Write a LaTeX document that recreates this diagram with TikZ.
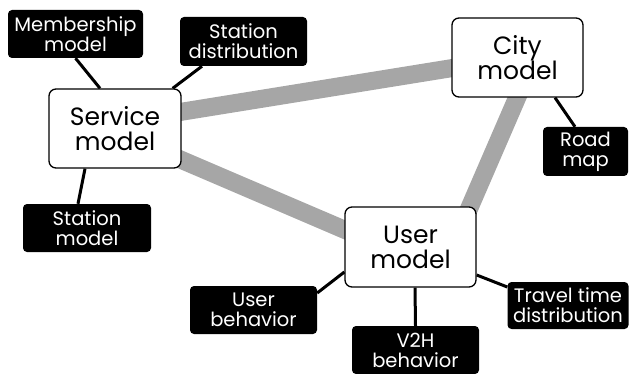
\documentclass[tikz,border=0pt]{standalone}
\usepackage{fontspec}
\setmainfont{Poppins}
\usetikzlibrary{backgrounds}
\definecolor{linkgray}{RGB}{166,166,166}
\tikzset{
  mainbox/.style={draw=black, line width=1.3pt, fill=white, rounded corners=7pt,
    align=center, inner sep=0pt, font=\fontsize{25}{25}\selectfont},
  tagbox/.style={fill=black, text=white, rounded corners=4pt, align=center,
    inner sep=0pt, font=\fontsize{19.5}{20}\selectfont},
  link/.style={draw=linkgray, line width=18pt},
  tie/.style={draw=black, line width=3pt},
}
\begin{document}
\begin{tikzpicture}[x=1pt, y=-1pt]
  \clip (0,0) rectangle (631,374);
  \useasboundingbox (0,0) rectangle (631,374);

  % models
  \node[mainbox, minimum width=132pt, minimum height=79pt] (svc)  at (115,128.5)   {Service\\model};
  \node[mainbox, minimum width=131pt, minimum height=79pt] (city) at (517.5,57.5)  {City\\model};
  \node[mainbox, minimum width=131pt, minimum height=80pt] (usr)  at (410.5,247)   {User\\model};

  % inputs of each model
  \node[tagbox, minimum width=135pt, minimum height=48pt] (mem)   at (75.5,34)    {Membership\\model};
  \node[tagbox, minimum width=127pt, minimum height=49pt] (sdist) at (243.5,41.5) {Station\\distribution};
  \node[tagbox, minimum width=128pt, minimum height=48pt] (smod)  at (87,228)     {Station\\model};
  \node[tagbox, minimum width=85pt,  minimum height=49pt] (road)  at (585.5,151.5){Road\\map};
  \node[tagbox, minimum width=127pt, minimum height=48pt] (ubeh)  at (253.5,310)  {User\\behavior};
  \node[tagbox, minimum width=121pt, minimum height=47pt] (ttd)   at (568,305.5)  {Travel time\\distribution};
  \node[tagbox, minimum width=127pt, minimum height=48pt] (v2h)   at (415.5,350)  {V2H\\behavior};

  \begin{pgfonlayer}{background}
    % thick links between the models
    \draw[link] ([yshift=6pt]svc.center)  -- (city.center);
    \draw[link] ([yshift=-3pt]svc.center) -- ([yshift=-11pt]usr.center);
    \draw[link] ([xshift=17pt]city.center) -- ([xshift=42pt]usr.center);
    % thin ties from each model to its inputs
    \draw[tie] (mem.south) -- ([xshift=-15pt]svc.north);
    \draw[tie] ([xshift=-41.5pt]sdist.south) -- ([xshift=-9pt]svc.north east);
    \draw[tie] ([xshift=-30pt]svc.south) -- ([xshift=-9pt]smod.north);
    \draw[tie] ([xshift=37.5pt]city.south) -- ([xshift=-10.5pt]road.north);
    \draw[tie] ([yshift=-25pt]usr.west) -- ([yshift=17pt]ubeh.east);
    \draw[tie] ([yshift=-28pt]usr.east) -- ([yshift=18.5pt]ttd.west);
    \draw[tie] ([xshift=4.5pt]usr.south) -- (v2h.north);
  \end{pgfonlayer}
\end{tikzpicture}
\end{document}
